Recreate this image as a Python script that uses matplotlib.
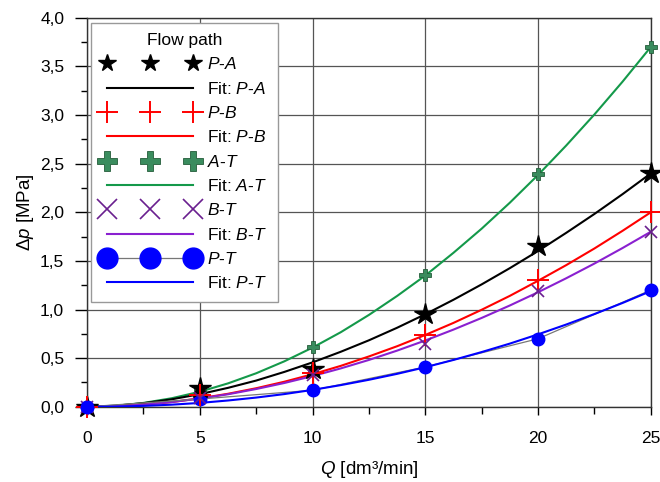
import matplotlib
matplotlib.use("Agg")
import matplotlib.pyplot as plt
from matplotlib.ticker import MultipleLocator, FuncFormatter

plt.rcParams["font.family"] = ["Liberation Sans", "DejaVu Sans"]
plt.rcParams["mathtext.fontset"] = "custom"
plt.rcParams["mathtext.rm"] = "Liberation Sans"
plt.rcParams["mathtext.it"] = "Liberation Sans:italic"

# ── Data ─────────────────────────────────────────────────────────────────
Q = [0, 5, 10, 15, 20, 25]
dp_PA = [0.0, 0.19, 0.39, 0.95, 1.65, 2.40]
dp_PB = [0.0, 0.12, 0.35, 0.74, 1.30, 2.00]
dp_AT = [0.0, 0.17, 0.61, 1.36, 2.39, 3.70]
dp_BT = [0.0, 0.09, 0.33, 0.65, 1.19, 1.80]
dp_PT = [0.0, 0.08, 0.17, 0.41, 0.70, 1.20]

# fit curves, read at 1.25 steps
Q_fit = [0, 1.25, 2.5, 3.75, 5, 6.25, 7.5, 8.75, 10, 11.25, 12.5,
         13.75, 15, 16.25, 17.5, 18.75, 20, 21.25, 22.5, 23.75, 25]
fit_PA = [0.0, 0.011, 0.037, 0.077, 0.13, 0.195, 0.27, 0.359, 0.457, 0.566, 0.684,
          0.813, 0.952, 1.101, 1.259, 1.426, 1.602, 1.789, 1.983, 2.187, 2.40]
fit_PB = [0.0, 0.006, 0.022, 0.049, 0.087, 0.134, 0.191, 0.258, 0.335, 0.421, 0.518,
          0.623, 0.739, 0.863, 0.998, 1.141, 1.296, 1.457, 1.628, 1.810, 2.00]
fit_AT = [0.0, 0.010, 0.040, 0.088, 0.155, 0.241, 0.345, 0.468, 0.609, 0.767, 0.945,
          1.140, 1.35, 1.584, 1.832, 2.099, 2.384, 2.687, 3.006, 3.344, 3.70]
fit_BT = [0.0, 0.006, 0.023, 0.049, 0.085, 0.129, 0.183, 0.245, 0.316, 0.395, 0.482,
          0.578, 0.682, 0.794, 0.914, 1.042, 1.178, 1.322, 1.473, 1.633, 1.80]
fit_PT = [0.0, 0.002, 0.0095, 0.022, 0.040, 0.065, 0.095, 0.131, 0.174, 0.223, 0.278,
          0.339, 0.407, 0.482, 0.563, 0.650, 0.745, 0.846, 0.954, 1.068, 1.19]

C_PA = "black"
C_PB = "#ff0000"
C_AT = "#14994a"
C_AT_FACE = "#3a8c5e"
C_BT = "#8a20d0"
C_BT_MARK = "#6a1f8f"
C_PT = "#0000ff"

fig = plt.figure(figsize=(6.6, 4.82), dpi=100)
ax = fig.add_axes([0.132, 0.156, 0.854, 0.807])

# ── Series ───────────────────────────────────────────────────────────────
ax.plot(Q_fit, fit_AT, color=C_AT, lw=1.5, label=r"Fit: $\mathit{A}$-$\mathit{T}$", zorder=3)
ax.plot(Q_fit, fit_PA, color=C_PA, lw=1.5, label=r"Fit: $\mathit{P}$-$\mathit{A}$", zorder=3)
ax.plot(Q_fit, fit_PB, color=C_PB, lw=1.5, label=r"Fit: $\mathit{P}$-$\mathit{B}$", zorder=3)
ax.plot(Q_fit, fit_BT, color=C_BT, lw=1.5, label=r"Fit: $\mathit{B}$-$\mathit{T}$", zorder=3)
ax.plot(Q, dp_PT, color="#777777", lw=0.9, marker="o", ms=9, mfc=C_PT, mec=C_PT,
        label=r"$\mathit{P}$-$\mathit{T}$", zorder=4, clip_on=False)
ax.plot(Q_fit, fit_PT, color=C_PT, lw=1.5, label=r"Fit: $\mathit{P}$-$\mathit{T}$", zorder=4)

ax.plot(Q, dp_AT, ls="none", marker="P", ms=8, mfc=C_AT_FACE, mec="#245c3a", mew=0.6,
        label=r"$\mathit{A}$-$\mathit{T}$", zorder=5, clip_on=False)
ax.plot(Q, dp_PA, ls="none", marker="*", ms=16, color=C_PA,
        label=r"$\mathit{P}$-$\mathit{A}$", zorder=5, clip_on=False)
ax.plot(Q, dp_PB, ls="none", marker="+", ms=16, mew=1.4, color=C_PB,
        label=r"$\mathit{P}$-$\mathit{B}$", zorder=5, clip_on=False)
ax.plot(Q, dp_BT, ls="none", marker="x", ms=9, mew=1.2, color=C_BT_MARK,
        label=r"$\mathit{B}$-$\mathit{T}$", zorder=5, clip_on=False)
# blue dot at origin sits on top
ax.plot(Q[:1], dp_PT[:1], ls="none", marker="o", ms=9, color=C_PT, zorder=6, clip_on=False)

# ── Axes ─────────────────────────────────────────────────────────────────
ax.set_xlim(0, 25)
ax.set_ylim(0, 4)
ax.xaxis.set_major_locator(MultipleLocator(5))
ax.xaxis.set_minor_locator(MultipleLocator(2.5))
ax.yaxis.set_major_locator(MultipleLocator(0.5))
ax.yaxis.set_minor_locator(MultipleLocator(0.25))
ax.yaxis.set_major_formatter(FuncFormatter(lambda v, p: f"{v:.1f}".replace(".", ",")))
ax.tick_params(axis="x", which="major", direction="out", length=5.5, width=1,
               labelsize=12.5, pad=12)
ax.tick_params(axis="x", which="minor", direction="out", length=5, width=1)
ax.tick_params(axis="y", which="major", direction="out", length=9, width=1,
               labelsize=12.5, pad=7.5)
ax.tick_params(axis="y", which="minor", direction="out", length=4.5, width=1)
ax.grid(True, which="major", color="#555555", lw=0.9)
for s in ax.spines.values():
    s.set_color("#333333")
    s.set_linewidth(1.0)

ax.set_xlabel(r"$\mathit{Q}$ [dm³/min]", fontsize=13.5, labelpad=9)
ax.set_ylabel(r"$\mathit{\Delta p}$ [MPa]", fontsize=13.5, labelpad=3)

# ── Legend ───────────────────────────────────────────────────────────────
h, l = ax.get_legend_handles_labels()
order = [r"$\mathit{P}$-$\mathit{A}$", r"Fit: $\mathit{P}$-$\mathit{A}$",
         r"$\mathit{P}$-$\mathit{B}$", r"Fit: $\mathit{P}$-$\mathit{B}$",
         r"$\mathit{A}$-$\mathit{T}$", r"Fit: $\mathit{A}$-$\mathit{T}$",
         r"$\mathit{B}$-$\mathit{T}$", r"Fit: $\mathit{B}$-$\mathit{T}$",
         r"$\mathit{P}$-$\mathit{T}$", r"Fit: $\mathit{P}$-$\mathit{T}$"]
lookup = dict(zip(l, h))
leg = ax.legend([lookup[k] for k in order], order, title="Flow path", loc="upper left",
                bbox_to_anchor=(0.007, 0.988), borderaxespad=0, numpoints=3,
                handlelength=5.6, fontsize=12.5, title_fontsize=12.5, labelspacing=0.48,
                handletextpad=0.5, fancybox=False, framealpha=1, edgecolor="#999999",
                borderpad=0.6)
leg.get_frame().set_linewidth(1.0)
legend_ms = [13, None, 16, None, 14, None, 14, None, 15, None]
for hh, ms in zip(leg.legend_handles, legend_ms):
    if ms is not None:
        hh.set_markersize(ms)
leg.set_zorder(10)

fig.savefig("out.png", dpi=100)
